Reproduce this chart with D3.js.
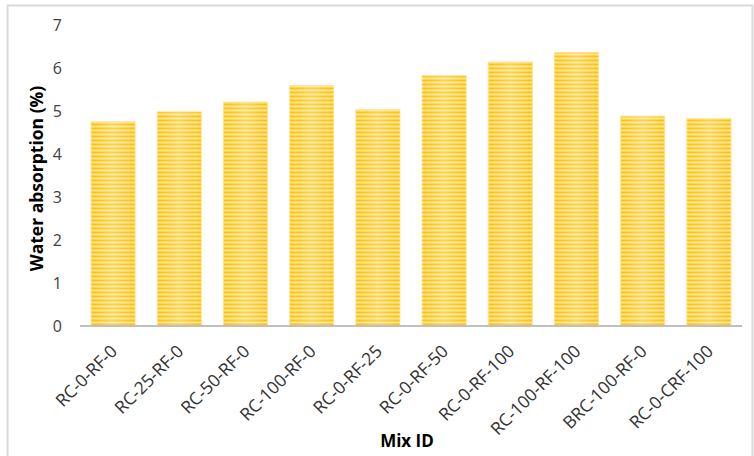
<!DOCTYPE html>
<html>
<head>
<meta charset="utf-8">
<script src="https://cdn.jsdelivr.net/npm/d3@7"></script>
<style>
  html, body { margin: 0; padding: 0; background: #fff; }
  svg { display: block; font-family: "Open Sans", "Noto Sans", sans-serif; }
</style>
</head>
<body>
<svg id="chart" width="754" height="456"></svg>
<script>
// Water absorption per mix
const mixIds = ["RC-0-RF-0", "RC-25-RF-0", "RC-50-RF-0", "RC-100-RF-0", "RC-0-RF-25",
                "RC-0-RF-50", "RC-0-RF-100", "RC-100-RF-100", "BRC-100-RF-0", "RC-0-CRF-100"];
const absorption = [4.75, 4.98, 5.21, 5.59, 5.03, 5.82, 6.14, 6.36, 4.88, 4.82];
const yTicks = [0, 1, 2, 3, 4, 5, 6, 7];

const svg = d3.select("#chart");
const plot = { left: 80, right: 742, top: 25, bottom: 326 };

// chart frame
svg.append("rect")
  .attr("x", 7.5).attr("y", 5.5)
  .attr("width", 745).attr("height", 470)
  .attr("fill", "#fff").attr("stroke", "#d9d9d9").attr("stroke-width", 2);

const x = d3.scaleBand().domain(mixIds).range([plot.left, plot.right]).paddingInner(0.335).paddingOuter(0.1675);
const y = d3.scaleLinear().domain([0, 7]).range([plot.bottom, plot.top]);

// striped fill for the bars
const defs = svg.append("defs");
const pat = defs.append("pattern")
  .attr("id", "stripes").attr("patternUnits", "userSpaceOnUse")
  .attr("width", 10).attr("height", 4);
const rows = [
  ["#FFC000", 0, 1.6],
  ["#FFCB2E", 1.6, 0.9],
  ["#FFE28A", 2.5, 0.8],
  ["#FFC000", 3.3, 0.7]
];
rows.forEach(([c, y0, h]) => pat.append("rect").attr("x", 0).attr("y", y0).attr("width", 10).attr("height", h).attr("fill", c));

const glow = defs.append("linearGradient").attr("id", "glow").attr("x1", 0).attr("x2", 1).attr("y1", 0).attr("y2", 0);
glow.append("stop").attr("offset", "0%").attr("stop-color", "#fff").attr("stop-opacity", 0.0);
glow.append("stop").attr("offset", "50%").attr("stop-color", "#fff").attr("stop-opacity", 0.28);
glow.append("stop").attr("offset", "100%").attr("stop-color", "#fff").attr("stop-opacity", 0.0);

const bars = svg.append("g");
bars.selectAll("rect.bar").data(mixIds).join("rect")
  .attr("class", "bar")
  .attr("x", d => x(d)).attr("width", x.bandwidth())
  .attr("y", (d, i) => y(absorption[i]))
  .attr("height", (d, i) => y(0) - y(absorption[i]))
  .attr("fill", "url(#stripes)");
bars.selectAll("rect.glow").data(mixIds).join("rect")
  .attr("class", "glow")
  .attr("x", d => x(d)).attr("width", x.bandwidth())
  .attr("y", (d, i) => y(absorption[i]))
  .attr("height", (d, i) => y(0) - y(absorption[i]))
  .attr("fill", "url(#glow)")
  .attr("stroke", "#FFE08A").attr("stroke-width", 0.8);

// value axis labels
const yAxis = d3.axisLeft(y).tickValues(yTicks).tickSize(0).tickPadding(0).tickFormat(d3.format("d"));
const gy = svg.append("g").attr("transform", "translate(62,0)").call(yAxis);
gy.select(".domain").remove();
gy.selectAll("text").attr("font-size", 16).attr("fill", "#404040")
  .attr("font-family", "'Open Sans', sans-serif").attr("dy", "0.35em").attr("x", 0);

// category axis
const xAxis = d3.axisBottom(x).tickSize(0).tickPadding(0);
const gx = svg.append("g").attr("transform", `translate(0,${plot.bottom})`).call(xAxis);
gx.select(".domain").attr("stroke", "#bfbfbf").attr("stroke-width", 2).attr("d", `M${plot.left},0H${plot.right}`);
gx.selectAll(".tick text")
  .attr("font-size", 17.5).attr("fill", "#333")
  .attr("font-family", "'Open Sans', sans-serif")
  .attr("text-anchor", "end")
  .attr("y", 0).attr("dy", "0.35em")
  .attr("transform", "translate(1,22) rotate(-45)");

// axis titles
svg.append("text")
  .attr("transform", `translate(43,${(plot.top + plot.bottom) / 2 + 3}) rotate(-90)`)
  .attr("text-anchor", "middle")
  .attr("font-size", 17.5).attr("font-weight", "bold").attr("fill", "#000")
  .text("Water absorption (%)");
svg.append("text")
  .attr("x", 407).attr("y", 447)
  .attr("text-anchor", "middle")
  .attr("font-size", 17).attr("font-weight", "bold").attr("fill", "#000")
  .text("Mix ID");
</script>
</body>
</html>
